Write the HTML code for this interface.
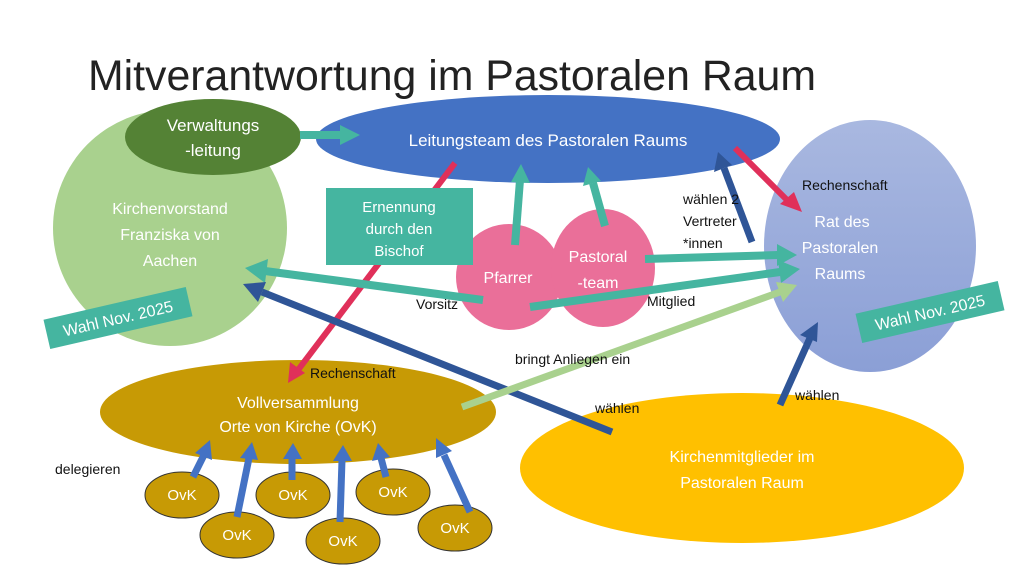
<!DOCTYPE html>
<html><head><meta charset="utf-8"><style>
html,body{margin:0;padding:0;background:#fff;}
svg{display:block;font-family:"Liberation Sans",sans-serif;}
.w{fill:#fff;font-size:16px;text-anchor:middle;}
.b{fill:#111;font-size:14px;}
</style></head><body>
<svg width="1024" height="576" viewBox="0 0 1024 576">
<defs>
<linearGradient id="rg" x1="0" y1="0" x2="0" y2="1"><stop offset="0" stop-color="#a9b8e0"/><stop offset="1" stop-color="#8b9fd6"/></linearGradient>
</defs>
<text x="88" y="90" font-size="43" fill="#222" textLength="728" lengthAdjust="spacingAndGlyphs">Mitverantwortung im Pastoralen Raum</text>

<ellipse cx="170" cy="228" rx="117" ry="118" fill="#a9d18e"/>
<ellipse cx="213" cy="137" rx="88" ry="38" fill="#548235"/>
<ellipse cx="548" cy="139" rx="232" ry="44" fill="#4472c4"/>
<ellipse cx="870" cy="246" rx="106" ry="126" fill="url(#rg)"/>
<ellipse cx="298" cy="412" rx="198" ry="52" fill="#c79a05"/>
<ellipse cx="742" cy="468" rx="222" ry="75" fill="#ffc000"/>
<circle cx="509" cy="277" r="53" fill="#ea6f99"/>
<ellipse cx="603" cy="268" rx="52" ry="59" fill="#ea6f99"/>

<g fill="#c79a05" stroke="#333" stroke-width="1">
<ellipse cx="182" cy="495" rx="37" ry="23"/>
<ellipse cx="237" cy="535" rx="37" ry="23"/>
<ellipse cx="293" cy="495" rx="37" ry="23"/>
<ellipse cx="343" cy="541" rx="37" ry="23"/>
<ellipse cx="393" cy="492" rx="37" ry="23"/>
<ellipse cx="455" cy="528" rx="37" ry="23"/>
</g>

<g stroke-linecap="butt">
<line x1="455" y1="163" x2="298" y2="370" stroke="#e0305a" stroke-width="6"/>
<polygon points="288,383 290,362 305,373" fill="#e0305a"/>
<rect x="326" y="188" width="147" height="77" fill="#45b5a0"/>
<line x1="300" y1="135" x2="340" y2="135" stroke="#45b5a0" stroke-width="8"/>
<polygon points="360,135 340,125 340,145" fill="#45b5a0"/>
<line x1="515" y1="245" x2="520" y2="180" stroke="#45b5a0" stroke-width="8"/>
<polygon points="521,164 511,182 530,183" fill="#45b5a0"/>
<line x1="605" y1="226" x2="593" y2="183" stroke="#45b5a0" stroke-width="8"/>
<polygon points="588,167 583,186 601,181" fill="#45b5a0"/>
<line x1="752" y1="242" x2="724" y2="168" stroke="#2f5597" stroke-width="7"/>
<polygon points="718,152 714,172 732,165" fill="#2f5597"/>
<line x1="735" y1="148" x2="789" y2="202" stroke="#e0305a" stroke-width="6"/>
<polygon points="802,212 780,204 794,192" fill="#e0305a"/>
<line x1="645" y1="259" x2="778" y2="255" stroke="#45b5a0" stroke-width="8"/>
<polygon points="797,255 777,244 777,266" fill="#45b5a0"/>
<line x1="530" y1="307" x2="780" y2="272" stroke="#45b5a0" stroke-width="8"/>
<polygon points="800,269 778,260 781,283" fill="#45b5a0"/>
<line x1="483" y1="300" x2="265" y2="271" stroke="#45b5a0" stroke-width="8"/>
<polygon points="245,268 268,259 265,283" fill="#45b5a0"/>
<line x1="612" y1="432" x2="262" y2="292" stroke="#2f5597" stroke-width="7"/>
<polygon points="243,284 266,282 258,302" fill="#2f5597"/>
<line x1="462" y1="407" x2="780" y2="292" stroke="#a9d18e" stroke-width="7"/>
<polygon points="797,285 776,282 783,302" fill="#a9d18e"/>
<line x1="780" y1="405" x2="810" y2="338" stroke="#2f5597" stroke-width="7"/>
<polygon points="818,322 800,335 817,342" fill="#2f5597"/>
<g stroke="#4472c4" stroke-width="7">
<line x1="193" y1="477" x2="204" y2="455"/>
<line x1="237" y1="517" x2="249" y2="458"/>
<line x1="292" y1="480" x2="292" y2="458"/>
<line x1="340" y1="522" x2="342" y2="460"/>
<line x1="386" y1="477" x2="381" y2="458"/>
<line x1="470" y1="512" x2="444" y2="455"/>
</g>
<g fill="#4472c4">
<polygon points="210,440 195,453 212,460"/>
<polygon points="252,442 240,458 258,460"/>
<polygon points="293,443 283,459 302,459"/>
<polygon points="343,445 333,461 352,461"/>
<polygon points="378,443 372,461 390,457"/>
<polygon points="436,438 436,458 452,451"/>
</g>
</g>

<g class="w">
<text x="213" y="131" font-size="17">Verwaltungs</text>
<text x="213" y="156" font-size="17">-leitung</text>
<text x="548" y="146" font-size="17">Leitungsteam des Pastoralen Raums</text>
<text x="170" y="214">Kirchenvorstand</text>
<text x="170" y="240">Franziska von</text>
<text x="170" y="266">Aachen</text>
<text x="399" y="212" font-size="15">Ernennung</text>
<text x="399" y="234" font-size="15">durch den</text>
<text x="399" y="256" font-size="15">Bischof</text>
<text x="508" y="283">Pfarrer</text>
<text x="598" y="262">Pastoral</text>
<text x="598" y="288">-team</text>
<text x="842" y="227">Rat des</text>
<text x="840" y="253">Pastoralen</text>
<text x="840" y="279">Raums</text>
<text x="298" y="408">Vollversammlung</text>
<text x="298" y="432">Orte von Kirche (OvK)</text>
<text x="742" y="462">Kirchenmitglieder im</text>
<text x="742" y="488">Pastoralen Raum</text>
<g font-size="15">
<text x="182" y="500">OvK</text><text x="237" y="540">OvK</text><text x="293" y="500">OvK</text>
<text x="343" y="546">OvK</text><text x="393" y="497">OvK</text><text x="455" y="533">OvK</text>
</g>
</g>

<g transform="rotate(-13 118 318)"><rect x="45" y="303" width="146" height="30" fill="#45b5a0"/><text x="118" y="324" class="w" font-size="15">Wahl  Nov. 2025</text></g>
<g transform="rotate(-13 930 312)"><rect x="857" y="297" width="146" height="30" fill="#45b5a0"/><text x="930" y="318" class="w" font-size="15">Wahl Nov. 2025</text></g>

<g class="b">
<text x="310" y="378">Rechenschaft</text>
<text x="802" y="190">Rechenschaft</text>
<text x="683" y="204">wählen 2</text>
<text x="683" y="226">Vertreter</text>
<text x="683" y="248">*innen</text>
<text x="416" y="309">Vorsitz</text>
<text x="647" y="306">Mitglied</text>
<text x="515" y="364">bringt Anliegen ein</text>
<text x="595" y="413">wählen</text>
<text x="795" y="400">wählen</text>
<text x="55" y="474">delegieren</text>
</g>
</svg>
</body></html>
